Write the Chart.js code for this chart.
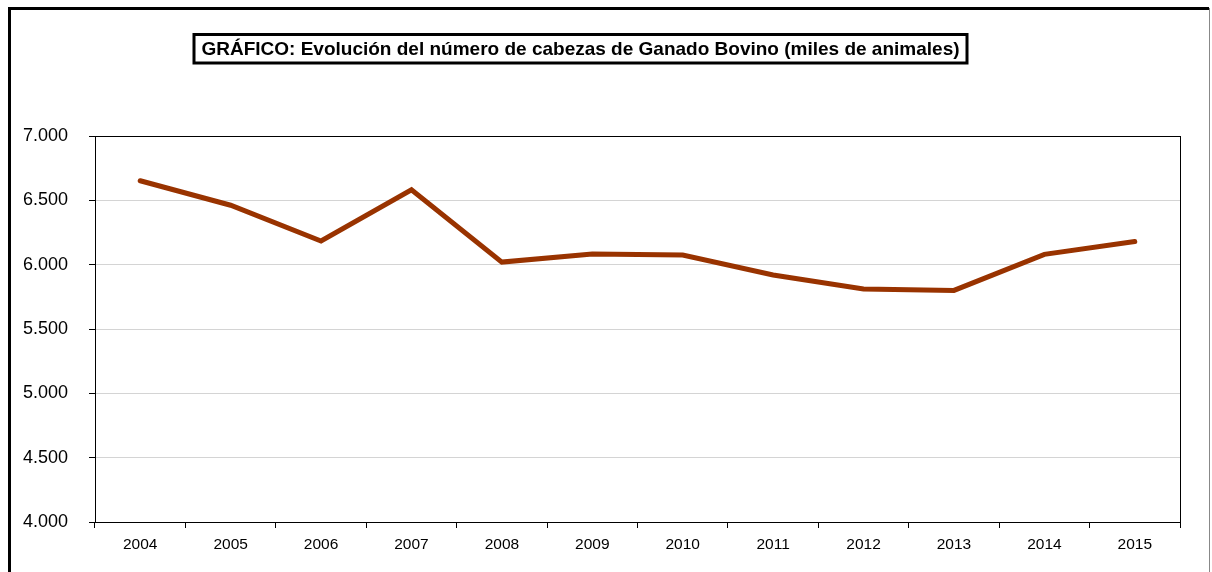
<!DOCTYPE html>
<html>
<head>
<meta charset="utf-8">
<script src="https://cdn.jsdelivr.net/npm/chart.js@4/dist/chart.umd.min.js"></script>
<style>
  html, body { margin: 0; padding: 0; background: #fff; }
  #wrap { width: 1212px; height: 572px; position: relative; }
</style>
</head>
<body>
<div id="wrap"><canvas id="myChart" width="1212" height="572"></canvas></div>
<script>
// data (miles de animales)
const years = ['2004', '2005', '2006', '2007', '2008', '2009', '2010', '2011', '2012', '2013', '2014', '2015'];
const cabezas = [6652, 6462, 6184, 6582, 6020, 6082, 6075, 5920, 5811, 5800, 6080, 6180];
const Y_MIN = 4000;
const Y_MAX = 7000;
const Y_STEP = 500;
const TITLE = 'GRÁFICO: Evolución del número de cabezas de Ganado Bovino (miles de animales)';

const FONT = '"Liberation Sans", Arial, sans-serif';

// formats 7000 as "7.000"
var fmtMiles = function(v) {
	return (v / 1000).toFixed(3);
}

// draws the outer frame, the title box and the plot border
const framePlugin = {
	id: 'frame',
	beforeDraw(chart) {
		const c = chart.ctx;
		c.save();
		c.fillStyle = '#fff';
		c.fillRect(0, 0, chart.width, chart.height);
		// outer frame
		c.strokeStyle = '#888';
		c.lineWidth = 1;
		c.beginPath();
		c.moveTo(1209.5, 8);
		c.lineTo(1209.5, 572);
		c.stroke();
		c.strokeStyle = '#000';
		c.lineWidth = 3;
		c.beginPath();
		c.moveTo(9.5, 572);
		c.lineTo(9.5, 8.5);
		c.lineTo(1209, 8.5);
		c.stroke();
		// title box
		c.lineWidth = 3;
		c.strokeRect(194, 34.5, 773, 28.5);
		c.fillStyle = '#000';
		c.font = 'bold 19px ' + FONT;
		c.textAlign = 'center';
		c.textBaseline = 'middle';
		c.fillText(TITLE, 580.5, 49.5);
		c.restore();
	},
	afterDatasetsDraw(chart) {
		const a = chart.chartArea;
		const c = chart.ctx;
		c.save();
		c.strokeStyle = '#000';
		c.lineWidth = 1;
		c.strokeRect(Math.round(a.left) + 0.5, Math.round(a.top) + 0.5, Math.round(a.right - a.left), Math.round(a.bottom - a.top));
		c.restore();
	}
};

var ctx = document.getElementById('myChart');
var chart = new Chart(ctx, {
	type: 'line',
	data: {
		labels: years,
		datasets: [{
			label: 'Cabezas de Ganado Bovino',
			data: cabezas,
			borderColor: '#993300',
			backgroundColor: '#993300',
			borderWidth: 5,
			pointRadius: 0,
			tension: 0,
			borderCapStyle: 'round',
			borderJoinStyle: 'miter'
		}]
	},
	options: {
		responsive: false,
		animation: false,
		layout: { padding: { top: 136, right: 32, left: 0, bottom: 0 } },
		plugins: {
			legend: { display: false },
			title: { display: false },
			tooltip: { enabled: false }
		},
		scales: {
			x: {
				offset: true,
				grid: {
					offset: true,
					drawOnChartArea: false,
					color: '#000',
					tickLength: 6
				},
				border: { color: '#000', width: 1 },
				ticks: {
					color: '#000',
					font: { family: FONT, size: 15.5 },
					padding: 7,
					maxRotation: 0
				},
				afterFit(scale) { scale.height = 50; }
			},
			y: {
				min: Y_MIN,
				max: Y_MAX,
				grid: {
					color: '#d4d4d4',
					tickColor: '#000',
					tickLength: 6
				},
				border: { color: '#000', width: 1 },
				ticks: {
					stepSize: Y_STEP,
					color: '#000',
					font: { family: FONT, size: 18 },
					padding: 21,
					callback: function(v) { return fmtMiles(v); }
				},
				afterFit(scale) { scale.width = 95; }
			}
		}
	},
	plugins: [framePlugin]
});
</script>
</body>
</html>
